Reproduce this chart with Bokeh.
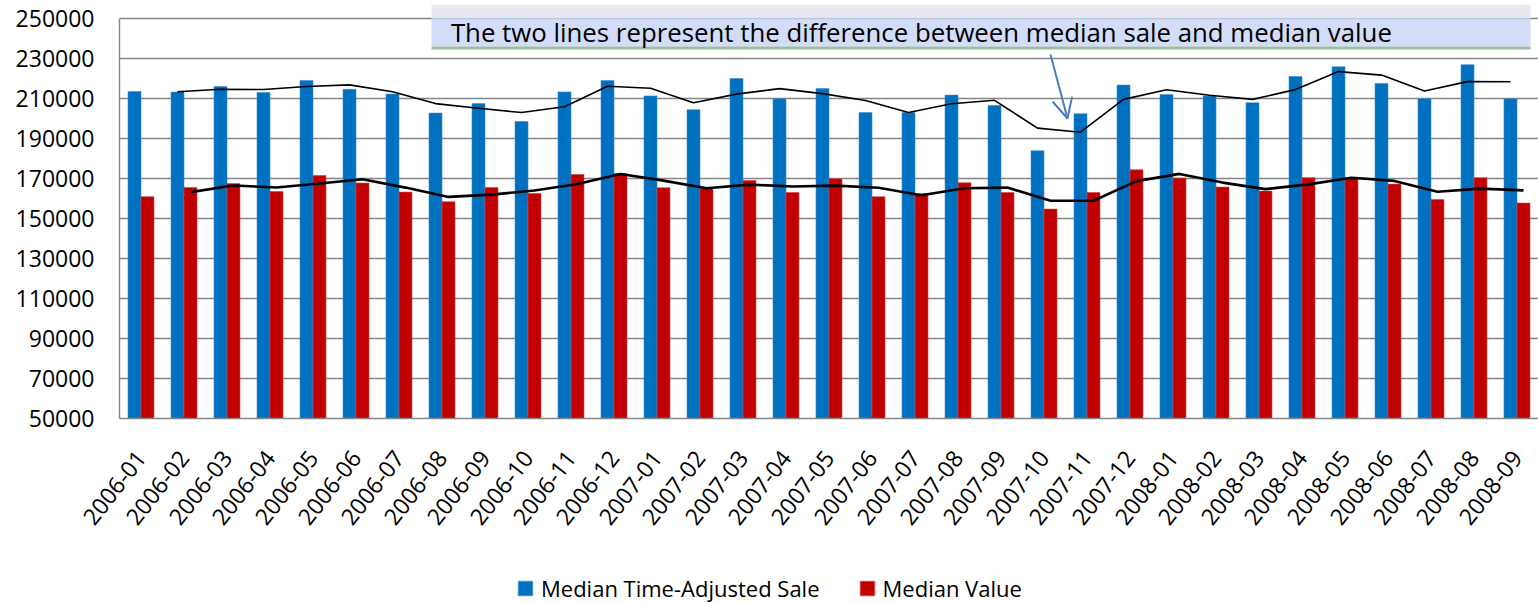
import math
from bokeh.plotting import figure
from bokeh.layouts import column
from bokeh.models import (ColumnDataSource, FixedTicker, Legend, LegendItem, BoxAnnotation,
                          Label, Arrow, OpenHead, Range1d, BasicTickFormatter)
from bokeh.transform import dodge
from bokeh.embed import file_html
from bokeh.resources import INLINE

months = ["2006-01", "2006-02", "2006-03", "2006-04", "2006-05", "2006-06", "2006-07",
          "2006-08", "2006-09", "2006-10", "2006-11", "2006-12", "2007-01", "2007-02",
          "2007-03", "2007-04", "2007-05", "2007-06", "2007-07", "2007-08", "2007-09",
          "2007-10", "2007-11", "2007-12", "2008-01", "2008-02", "2008-03", "2008-04",
          "2008-05", "2008-06", "2008-07", "2008-08", "2008-09"]

median_sale = [213500, 213200, 216000, 213000, 219000, 214600, 212200, 202700, 207500, 198500,
               213300, 219000, 211300, 204400, 220000, 209900, 215000, 203000, 203000, 211700,
               206500, 183900, 202400, 216700, 212000, 211200, 207900, 221000, 225900, 217500,
               210000, 226900, 209900]

median_value = [160900, 165500, 167500, 163500, 171500, 167700, 163200, 158400, 165500, 162500,
                172000, 172500, 165400, 164900, 169000, 163000, 169900, 160900, 162400, 167900,
                163000, 154700, 163000, 174400, 170200, 165700, 163700, 170400, 170400, 167200,
                159500, 170400, 157700]

# trend lines, starting at 2006-02
trend_months = months[1:]
sale_trend = [213350, 214600, 214500, 216000, 216800, 213400, 207450, 205100, 203000, 205900,
              216150, 215150, 207850, 212200, 214950, 212450, 209000, 203000, 207350, 209100,
              195200, 193150, 209550, 214350, 211600, 209550, 214450, 223450, 221700, 213750,
              218450, 218400]
value_trend = [163200, 166500, 165500, 167500, 169600, 165450, 160800, 161950, 164000, 167250,
               172250, 168950, 165150, 166950, 166000, 166450, 165400, 161650, 165150, 165450,
               158850, 158850, 168700, 172300, 167950, 164700, 167050, 170400, 168800, 163350,
               164950, 164050]

y_ticks = [50000, 70000, 90000, 110000, 130000, 150000, 170000, 190000, 210000, 230000, 250000]

series_names = ["Median Time-Adjusted Sale", "Median Value"]
series_colors = ["#0070c0", "#c00000"]
edge_colors = ["#3d8fd0", "#d44040"]

note_text = "The two lines represent the difference between  median sale and median value"

FONT = "Open Sans"
GRID = "#868686"

idx = list(range(len(months)))
src = ColumnDataSource(dict(i=idx, month=months, sale=median_sale, value=median_value))
tsrc = ColumnDataSource(dict(i=[months.index(m) for m in trend_months],
                             sale_t=sale_trend, value_t=value_trend))

p = figure(width=1538, height=553, output_backend="svg", toolbar_location=None,
           x_range=Range1d(-0.5, 32.5), y_range=Range1d(50000, 257000),
           min_border_left=119, min_border_top=4, min_border_bottom=135, min_border_right=0)
p.outline_line_color = None
p.background_fill_color = "white"
p.border_fill_color = "white"

bw = 0.302
rb = p.vbar(x=dodge("i", -bw / 2, range=p.x_range), top="sale", bottom=50000, width=bw,
            source=src, fill_color=series_colors[0], line_color=edge_colors[0], line_width=0.6)
rr = p.vbar(x=dodge("i", bw / 2, range=p.x_range), top="value", bottom=50000, width=bw,
            source=src, fill_color=series_colors[1], line_color=edge_colors[1], line_width=0.6)

p.line(x=dodge("i", -bw / 2, range=p.x_range), y="sale_t", source=tsrc,
       line_color="black", line_width=1.6)
p.line(x=dodge("i", bw / 2, range=p.x_range), y="value_t", source=tsrc,
       line_color="black", line_width=2.6)

# grid / axes
p.xgrid.visible = False
p.ygrid.grid_line_color = GRID
p.ygrid.grid_line_width = 1.4
p.ygrid.ticker = FixedTicker(ticks=y_ticks)

p.yaxis.ticker = FixedTicker(ticks=y_ticks)
p.yaxis.bounds = (y_ticks[0], y_ticks[-1])
p.yaxis.formatter = BasicTickFormatter(use_scientific=False)
p.yaxis.axis_line_color = GRID
p.yaxis.axis_line_width = 1.4
p.yaxis.major_tick_line_color = None
p.yaxis.minor_tick_line_color = None
p.yaxis.major_tick_out = 0
p.yaxis.minor_tick_out = 0
p.yaxis.major_label_standoff = 25
p.yaxis.major_label_text_font = FONT
p.yaxis.major_label_text_font_size = "23px"
p.yaxis.major_label_text_color = "black"

p.xaxis.ticker = FixedTicker(ticks=idx)
p.xaxis.major_label_overrides = {i: m for i, m in zip(idx, months)}
p.xaxis.major_label_orientation = math.radians(52)
p.xaxis.axis_line_color = GRID
p.xaxis.axis_line_width = 1.4
p.xaxis.major_tick_line_color = None
p.xaxis.minor_tick_line_color = None
p.xaxis.major_tick_out = 0
p.xaxis.minor_tick_out = 0
p.xaxis.major_label_standoff = 35
p.xaxis.major_label_text_font = FONT
p.xaxis.major_label_text_font_size = "23px"
p.xaxis.major_label_text_color = "black"

# note box
p.add_layout(BoxAnnotation(left=6.756, right=32.314, top=257000, bottom=250300,
                           fill_color="#e2e4ec", fill_alpha=0.8, line_color=None))
p.add_layout(BoxAnnotation(left=6.756, right=32.314, top=250300, bottom=236000,
                           fill_color="#c8d4f8", fill_alpha=0.8, line_color=None))
p.add_layout(BoxAnnotation(left=6.756, right=32.314, top=236000, bottom=234500,
                           fill_color="#a0bba0", fill_alpha=1.0, line_color=None))
p.add_layout(Label(x=7.207, y=243500, text=note_text, text_font=FONT,
                   text_font_size="25.8px", text_color="black", text_baseline="middle"))
p.add_layout(Arrow(x_start=21.151, y_start=232000, x_end=21.547, y_end=200000,
                   line_color="#4a7ebb", line_width=2,
                   end=OpenHead(size=20, line_color="#4a7ebb", line_width=2)))

# legend strip below the chart (its glyphs fall outside its ranges, only the legend shows)
lg = figure(width=1538, height=50, output_backend="svg", toolbar_location=None,
            min_border=0, x_axis_type=None, y_axis_type=None,
            x_range=Range1d(1000, 1001), y_range=Range1d(1e7, 1e7 + 1))
lg.outline_line_color = None
lg.grid.visible = False
lg.border_fill_color = "white"
lb = lg.vbar(x="i", top="sale", width=bw, source=src,
             fill_color=series_colors[0], line_color=edge_colors[0])
lr = lg.vbar(x="i", top="value", width=bw, source=src,
             fill_color=series_colors[1], line_color=edge_colors[1])

legend = Legend(items=[LegendItem(label=series_names[0], renderers=[lb]),
                       LegendItem(label=series_names[1], renderers=[lr])],
                orientation="horizontal", location=(397, 0),
                padding=0, margin=0, spacing=38, label_standoff=7,
                glyph_width=18, glyph_height=18, label_height=18,
                label_text_font=FONT, label_text_font_size="22px", label_text_color="black",
                border_line_color=None, background_fill_alpha=0)
lg.add_layout(legend, "center")

layout = column(p, lg, spacing=0)
open("out.html", "w").write(file_html(layout, INLINE))
